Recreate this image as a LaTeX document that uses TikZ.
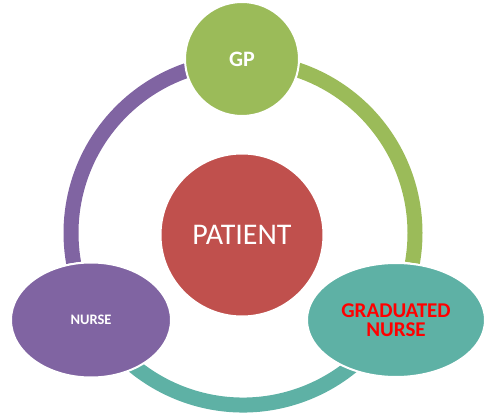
\documentclass[tikz,border=0pt]{standalone}
\usepackage{fontspec}
\setmainfont{Carlito}
\usetikzlibrary{shapes.geometric}
\definecolor{gpgreen}{HTML}{9BBB59}
\definecolor{patred}{HTML}{C0504D}
\definecolor{nursepurple}{HTML}{8064A2}
\definecolor{gradteal}{HTML}{5EB1A5}
\tikzset{
  ring/.style={line width=15pt, line cap=butt},
  bubble/.style={draw=white, line width=2pt, inner sep=0pt, text=white, align=center},
}
\begin{document}
\begin{tikzpicture}[x=1pt,y=1pt]
\useasboundingbox (0,0) rectangle (485,418);
\coordinate (c) at (243,185);
% ring arcs
\draw[ring, nursepurple] (c) ++(190:172) arc[start angle=190, end angle=90, radius=172];
\draw[ring, gpgreen] (c) ++(90:172) arc[start angle=90, end angle=-10, radius=172];
\draw[ring, gradteal] (c) ++(200:172) arc[start angle=200, end angle=340, radius=172];
% nodes
\node[bubble, circle, fill=gpgreen, minimum size=114pt, font=\fontsize{22}{24}\selectfont\bfseries] (gp) at (242,359) {GP};
\node[bubble, circle, fill=patred, minimum size=163pt, font=\fontsize{30}{34}\selectfont] (pat) at (242,183) {PATIENT};
\node[bubble, ellipse, fill=nursepurple, minimum width=160pt, minimum height=115pt, font=\fontsize{14.5}{17}\selectfont\bfseries] (nurse) at (91,98) {NURSE};
\node[bubble, ellipse, fill=gradteal, minimum width=178pt, minimum height=114pt, text=red, font=\fontsize{21}{19}\selectfont\bfseries] (grad) at (396,98) {GRADUATED\\NURSE};
\end{tikzpicture}
\end{document}
